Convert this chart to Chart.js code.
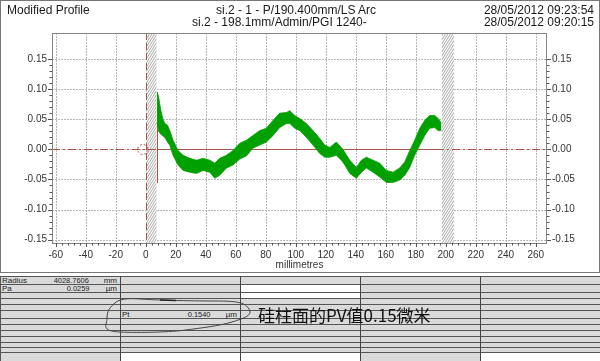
<!DOCTYPE html>
<html><head><meta charset="utf-8">
<script src="https://cdn.jsdelivr.net/npm/chart.js@4.4.1/dist/chart.umd.min.js"></script>
<style>
html,body{margin:0;padding:0;background:#fff;}
#wrap{position:relative;width:600px;height:361px;overflow:hidden;font-family:'Liberation Sans',Arial,sans-serif;}
#box{position:absolute;left:0;top:0;width:598px;height:271px;border:1px solid #777;}
#c{position:absolute;left:0;top:0;}
.t{position:absolute;white-space:nowrap;color:#1a1a1a;font-size:12px;line-height:12px;}
.tb{position:absolute;white-space:nowrap;color:#222;font-size:8px;line-height:8px;}
.cell{position:absolute;}
#note{position:absolute;left:258px;top:305px;font-family:'Noto Sans CJK SC',sans-serif;font-size:17px;line-height:20px;color:#111;white-space:nowrap;}
svg{position:absolute;left:0;top:0;}
</style></head>
<body><div id="wrap">
<div id="table"></div>
<div id="box"></div>
<canvas id="c" width="600" height="272"></canvas>
<div class="t" style="left:7px;top:4px">Modified Profile</div>
<div class="t" style="left:216px;top:4px">si.2 - 1 - P/190.400mm/LS Arc</div>
<div class="t" style="left:192px;top:16px">si.2 - 198.1mm/Admin/PGI 1240-</div>
<div class="t" style="right:6px;top:4px">28/05/2012 09:23:54</div>
<div class="t" style="right:6px;top:16px">28/05/2012 09:20:15</div>
<svg width="600" height="361"><path d="M115,303 C119,299 128,298 140,299 S190,301 215,301 S245,303 249,309 S245,318 232,322 S200,328 186,330 S140,333 120,332 S107,325 107,318 S110,307 115,303" fill="none" stroke="#444" stroke-width="1"/><path d="M160,300 L176,300.5" stroke="#222" stroke-width="1.3"/></svg>
<div id="note">硅柱面的PV值0.15微米</div>
</div>
<script>
// ---- data ----
const profileMm = [7.5,8.5,10,11.5,12.7,14.5,16,18.2,21.5,24.9,29.3,33.8,38.2,42.7,46,49.3,53.8,58.2,62.7,67.1,71.5,76,80.4,84.9,89.3,93.8,96,99.3,102.7,107,111.5,116,119.3,122.7,127,130.4,132.7,136,140.4,143.8,147.1,151.5,156,160.4,164.9,169.3,172.7,176,179.3,182.7,186,189.3,192.7,194.9,197.1];
const profileUpper = [0.095,0.088,0.065,0.050,0.043,0.040,0.031,0.015,-0.002,-0.010,-0.015,-0.018,-0.015,-0.018,-0.023,-0.015,-0.010,-0.002,0.010,0.015,0.023,0.031,0.035,0.048,0.060,0.061,0.064,0.056,0.051,0.043,0.031,0.018,0.007,0.003,0.012,0.003,-0.005,-0.018,-0.030,-0.018,-0.013,-0.018,-0.023,-0.035,-0.038,-0.031,-0.021,-0.002,0.015,0.035,0.048,0.056,0.056,0.051,0.043];
const profileLower = [0.045,0.030,0.025,0.022,0.020,0.012,0.007,-0.010,-0.026,-0.035,-0.038,-0.040,-0.035,-0.038,-0.048,-0.043,-0.031,-0.026,-0.016,-0.011,0.002,0.007,0.012,0.023,0.036,0.043,0.043,0.035,0.031,0.020,0.007,-0.007,-0.013,-0.013,-0.010,-0.018,-0.026,-0.040,-0.048,-0.038,-0.031,-0.038,-0.046,-0.055,-0.055,-0.051,-0.043,-0.030,-0.010,0.007,0.023,0.035,0.036,0.031,0.031];
const xTicks = [-60,-40,-20,0,20,40,60,80,100,120,140,160,180,200,220,240,260];
const yTicks = [-0.15,-0.10,-0.05,0,0.05,0.10,0.15];
const xRange = [-62.5, 267.5];
const yRange = [-0.1554, 0.1929];
const excludedRanges = [[0,7.3],[197.3,205.5]];
const evalStart = 7.3, evalEnd = 197.3;
const startMarker = [0.095,-0.056];
const tableLabels = ['Radius','Pa','Pt'];
const tableValues = ['4028.7606','0.0259','0.1540'];
const tableUnits = ['mm','µm','µm'];

// ---- table (report grid) ----
const tbl = document.getElementById('table');
const rowLines = [276,284,292,298,304,310,318,324,330,336,342,347,352];
const colLines = [120,240,360,480];
function rect(x,y,w,h,bg){const d=document.createElement('div');d.className='cell';d.style.cssText=`left:${x}px;top:${y}px;width:${w}px;height:${h}px;background:${bg}`;tbl.appendChild(d);}
rect(0,276,600,85,'#dadada');
rect(241,284,119,14,'#fff');
rect(121,352,119,9,'#fff');
rect(241,352,119,9,'#fff');
rect(481,352,119,9,'#fff');
rowLines.forEach(y=>rect(0,y,600,1,'#555'));
colLines.forEach(x=>rect(x,276,1,85,'#444'));
rect(0,276,1,85,'#555');
const textPos = [{y:277,lx:2,vr:89,ur:117},{y:285,lx:2,vr:89,ur:117},{y:311,lx:122,vr:210,ur:237}];
function txt(s,css){const d=document.createElement('div');d.className='tb';d.textContent=s;d.style.cssText+=css;tbl.appendChild(d);}
textPos.forEach((p,i)=>{
  txt(tableLabels[i],`left:${p.lx}px;top:${p.y}px;`);
  txt(tableValues[i],`right:${600-p.vr}px;top:${p.y}px;transform:scaleX(0.93);transform-origin:right;`);
  txt(tableUnits[i],`right:${600-p.ur}px;top:${p.y}px;`);
});

// ---- chart ----
const BROWN = '#a8584a';
const decor = {
  id:'decor',
  beforeDatasetsDraw(chart){
    const {ctx, chartArea:a, scales:{x,y}} = chart;
    ctx.save();
    ctx.beginPath(); ctx.rect(a.left,a.top,a.right-a.left,a.bottom-a.top); ctx.clip();
    ctx.strokeStyle='#b6b6b6'; ctx.lineWidth=1; ctx.setLineDash([2,1]);
    ctx.beginPath();
    xTicks.forEach(v=>{ const px=Math.round(x.getPixelForValue(v))+0.5; ctx.moveTo(px,a.top); ctx.lineTo(px,a.bottom); });
    yTicks.forEach(v=>{ const py=Math.round(y.getPixelForValue(v))+0.5; ctx.moveTo(a.left,py); ctx.lineTo(a.right,py); });
    ctx.stroke();
    ctx.setLineDash([]);
    excludedRanges.forEach(([m0,m1])=>{
      const x0=x.getPixelForValue(m0), x1=x.getPixelForValue(m1), w=x1-x0;
      ctx.fillStyle='#fff'; ctx.fillRect(x0,a.top,w,a.bottom-a.top);
      ctx.save(); ctx.beginPath(); ctx.rect(x0,a.top,w,a.bottom-a.top); ctx.clip();
      ctx.strokeStyle='#9c9c9c'; ctx.lineWidth=0.9; ctx.beginPath();
      for(let k=a.top-5; k<a.bottom+w*1.6+5; k+=4){ ctx.moveTo(x0,k); ctx.lineTo(x1,k-w*1.6); }
      ctx.stroke(); ctx.restore();
    });
    const y0 = Math.round(y.getPixelForValue(0))+0.5;
    ctx.strokeStyle=BROWN; ctx.lineWidth=1;
    ctx.setLineDash([8,3,2,3]);
    ctx.beginPath(); ctx.moveTo(a.left,y0); ctx.lineTo(a.right,y0); ctx.stroke();
    ctx.setLineDash([7,3]);
    const xz = Math.round(x.getPixelForValue(0))+0.5;
    ctx.beginPath(); ctx.moveTo(xz,a.top); ctx.lineTo(xz,a.bottom); ctx.stroke();
    ctx.setLineDash([]);
    ctx.beginPath(); ctx.moveTo(x.getPixelForValue(evalStart),y0); ctx.lineTo(x.getPixelForValue(evalEnd),y0); ctx.stroke();
    const xs = Math.round(x.getPixelForValue(evalStart))+0.5;
    ctx.beginPath(); ctx.moveTo(xs,y.getPixelForValue(startMarker[0])); ctx.lineTo(xs,y.getPixelForValue(startMarker[1])); ctx.stroke();
    ctx.setLineDash([2,2]);
    ctx.beginPath(); ctx.arc(x.getPixelForValue(-2),y0,5,0,Math.PI*2); ctx.stroke();
    ctx.restore();
  },
  afterDraw(chart){
    const {ctx, chartArea:a, scales:{x,y}} = chart;
    ctx.save();
    ctx.strokeStyle='#858585'; ctx.lineWidth=1;
    ctx.strokeRect(a.left+0.5,a.top+0.5,a.right-a.left-1,a.bottom-a.top);
    ctx.strokeStyle='#555';
    ctx.beginPath();
    xTicks.forEach(v=>{ const px=Math.round(x.getPixelForValue(v))+0.5; ctx.moveTo(px,a.bottom); ctx.lineTo(px,a.bottom+4); });
    yTicks.forEach(v=>{ const py=Math.round(y.getPixelForValue(v))+0.5; ctx.moveTo(a.left,py); ctx.lineTo(a.left-4,py); ctx.moveTo(a.right,py); ctx.lineTo(a.right+4,py); });
    for(let v=-60; v<=260; v+=4){ if(v%20===0) continue; const px=Math.round(x.getPixelForValue(v))+0.5; ctx.moveTo(px,a.bottom); ctx.lineTo(px,a.bottom+2.5); }
    for(let k=-15; k<=15; k++){ if(k%5===0) continue; const py=Math.round(y.getPixelForValue(k/100))+0.5; ctx.moveTo(a.left,py); ctx.lineTo(a.left-2.5,py); ctx.moveTo(a.right,py); ctx.lineTo(a.right+2.5,py); }
    ctx.stroke();
    ctx.restore();
  }
};
const tickFont = {family:"'Liberation Sans', Arial, sans-serif", size:10};
const yAxis = (pos, w) => ({
  type:'linear', position:pos, min:yRange[0], max:yRange[1],
  afterBuildTicks: s => { s.ticks = yTicks.map(v=>({value:v})); },
  afterFit: s => { s.width = w; },
  ticks:{ callback: v => v.toFixed(2), font:tickFont, color:'#333', padding:1 },
  grid:{ drawOnChartArea:false, tickLength:4, tickColor:'rgba(0,0,0,0)' },
  border:{ display:false }
});
new Chart(document.getElementById('c'), {
  type:'line',
  data:{ datasets:[
    { data: profileMm.map((m,i)=>({x:m,y:profileUpper[i]})), borderColor:'#00a000', backgroundColor:'#00a000', borderWidth:0.8, pointRadius:0, fill:'+1', tension:0 },
    { data: profileMm.map((m,i)=>({x:m,y:profileLower[i]})), borderColor:'#00a000', backgroundColor:'#00a000', borderWidth:0.8, pointRadius:0, fill:false, tension:0 }
  ]},
  options:{
    responsive:false, animation:false, devicePixelRatio:1,
    layout:{ padding:{ top:33, left:0, right:0, bottom:0 } },
    plugins:{ legend:{display:false}, tooltip:{enabled:false} },
    scales:{
      x:{ type:'linear', min:xRange[0], max:xRange[1],
        afterBuildTicks: s => { s.ticks = xTicks.map(v=>({value:v})); },
        afterFit: s => { s.height = 29; },
        ticks:{ font:tickFont, color:'#333', padding:2, maxRotation:0, autoSkip:false, callback: v => String(v) },
        grid:{ drawOnChartArea:false, tickLength:4, tickColor:'rgba(0,0,0,0)' },
        border:{ display:false },
        title:{ display:true, text:'millimetres', font:tickFont, color:'#333', padding:{top:0,bottom:1} } },
      y: yAxis('left',52),
      y2: yAxis('right',53)
    }
  },
  plugins:[decor]
});
</script>
</body></html>
